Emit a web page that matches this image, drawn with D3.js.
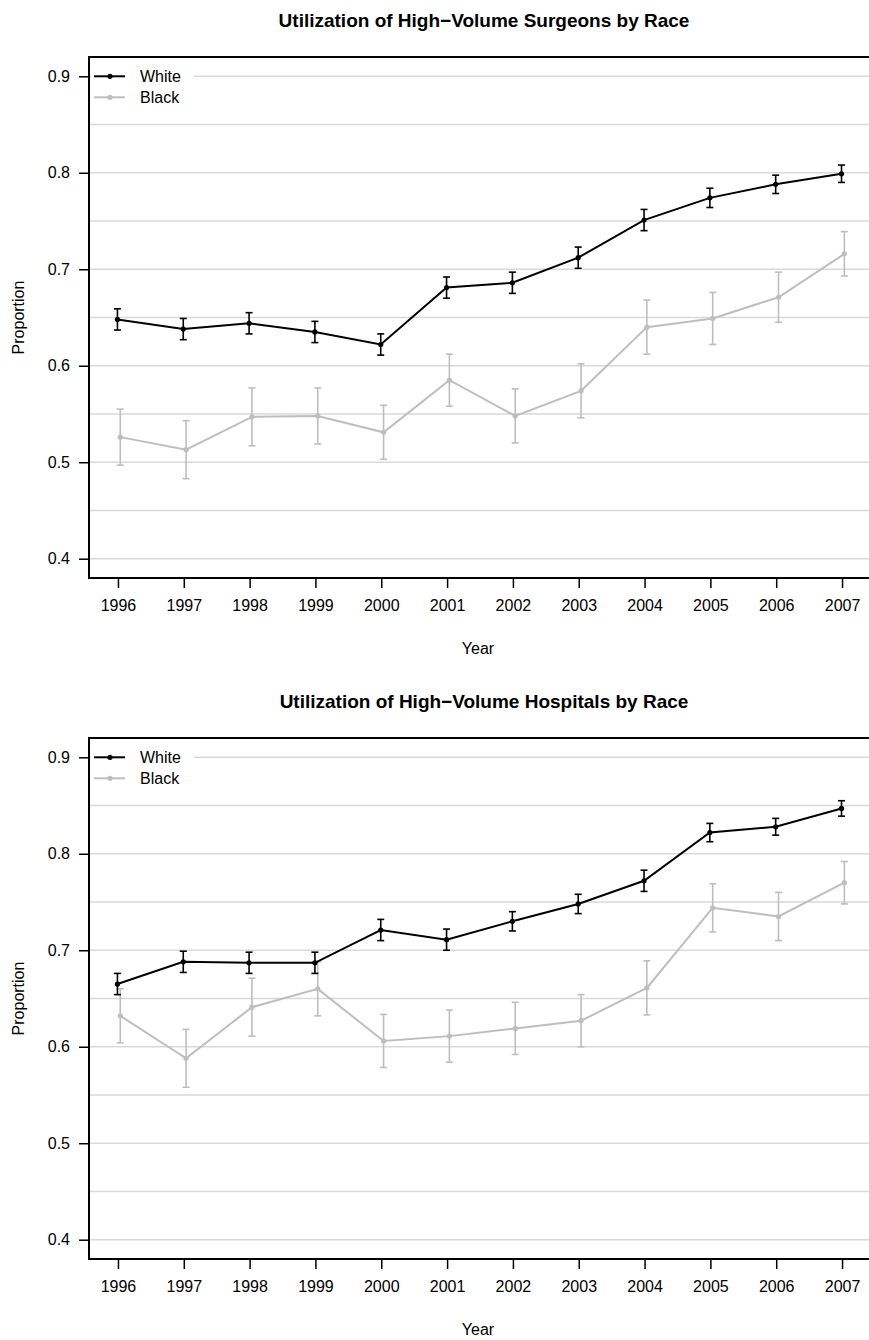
<!DOCTYPE html>
<html>
<head>
<meta charset="utf-8">
<script src="https://cdn.jsdelivr.net/npm/d3@7"></script>
<style>
  body { margin: 0; background: #fff; }
  svg { display: block; font-family: "Liberation Sans", Arial, sans-serif; }
</style>
</head>
<body>
<svg id="chart" width="869" height="1340"></svg>
<script>
// data
var years = [1996, 1997, 1998, 1999, 2000, 2001, 2002, 2003, 2004, 2005, 2006, 2007];
var yTicks = [0.4, 0.5, 0.6, 0.7, 0.8, 0.9];
var gridVals = [0.4, 0.45, 0.5, 0.55, 0.6, 0.65, 0.7, 0.75, 0.8, 0.85, 0.9];

var surgWhite    = [0.648, 0.638, 0.644, 0.635, 0.622, 0.681, 0.686, 0.712, 0.751, 0.774, 0.788, 0.799];
var surgWhiteErr = [0.011, 0.011, 0.011, 0.011, 0.011, 0.011, 0.011, 0.011, 0.011, 0.010, 0.0095, 0.009];
var surgBlack    = [0.526, 0.513, 0.547, 0.548, 0.531, 0.585, 0.548, 0.574, 0.640, 0.649, 0.671, 0.716];
var surgBlackErr = [0.029, 0.030, 0.030, 0.029, 0.028, 0.027, 0.028, 0.028, 0.028, 0.027, 0.026, 0.023];

var hospWhite    = [0.665, 0.688, 0.687, 0.687, 0.721, 0.711, 0.730, 0.748, 0.772, 0.822, 0.828, 0.847];
var hospWhiteErr = [0.011, 0.011, 0.011, 0.011, 0.011, 0.011, 0.010, 0.010, 0.011, 0.0095, 0.0087, 0.008];
var hospBlack    = [0.632, 0.588, 0.641, 0.660, 0.606, 0.611, 0.619, 0.627, 0.661, 0.744, 0.735, 0.770];
var hospBlackErr = [0.028, 0.030, 0.030, 0.028, 0.0275, 0.027, 0.027, 0.027, 0.028, 0.025, 0.025, 0.022];

var seriesNames = ["White", "Black"];
var seriesColors = ["#000000", "#bebebe"];

var svg = d3.select("#chart");

function panel(top, title, white, whiteErr, black, blackErr) {
  var left = 89, right = 871, boxTop = top + 57, boxBot = top + 578;
  var x = d3.scaleLinear().domain([1995.56, 2007.44]).range([left, right]);
  var y = d3.scaleLinear().domain([0.38, 0.92]).range([boxBot, boxTop]);
  var g = svg.append("g");

  // grid
  g.selectAll(".grid").data(gridVals).enter().append("line")
    .attr("x1", left).attr("x2", right)
    .attr("y1", d => y(d)).attr("y2", d => y(d))
    .attr("stroke", "#d9d9d9").attr("stroke-width", 1.5);

  var series = [
    {name: seriesNames[0], color: seriesColors[0], vals: white, err: whiteErr, dx: -0.008},
    {name: seriesNames[1], color: seriesColors[1], vals: black, err: blackErr, dx: 0.035}
  ];

  // legend background
  g.append("rect").attr("x", left + 2).attr("y", y(0.9) - 11)
    .attr("width", 103).attr("height", 42).attr("fill", "#fff");

  // draw gray first so black sits on top
  series.slice().reverse().forEach(function(s) {
    var pts = years.map((yr, i) => ({x: x(yr + s.dx), v: s.vals[i], e: s.err[i]}));
    var line = d3.line().x(d => d.x).y(d => y(d.v));
    g.append("path").datum(pts).attr("d", line)
      .attr("fill", "none").attr("stroke", s.color).attr("stroke-width", 2);
    var eb = g.selectAll(null).data(pts).enter().append("g")
      .attr("stroke", s.color).attr("stroke-width", 1.6);
    eb.append("line").attr("x1", d => d.x).attr("x2", d => d.x)
      .attr("y1", d => y(d.v - d.e)).attr("y2", d => y(d.v + d.e));
    eb.append("line").attr("x1", d => d.x - 3.5).attr("x2", d => d.x + 3.5)
      .attr("y1", d => y(d.v + d.e)).attr("y2", d => y(d.v + d.e));
    eb.append("line").attr("x1", d => d.x - 3.5).attr("x2", d => d.x + 3.5)
      .attr("y1", d => y(d.v - d.e)).attr("y2", d => y(d.v - d.e));
    g.selectAll(null).data(pts).enter().append("circle")
      .attr("cx", d => d.x).attr("cy", d => y(d.v)).attr("r", 2.6)
      .attr("fill", s.color);
  });

  // legend
  series.forEach(function(s, i) {
    var ly = y(0.9) + i * 21;
    g.append("line").attr("x1", left + 5).attr("x2", left + 36)
      .attr("y1", ly).attr("y2", ly).attr("stroke", s.color).attr("stroke-width", 2);
    g.append("circle").attr("cx", left + 21).attr("cy", ly).attr("r", 2.6).attr("fill", s.color);
    g.append("text").attr("x", left + 51).attr("y", ly + 6)
      .attr("font-size", 16).attr("fill", "#000").text(s.name);
  });

  // box (left, top, bottom; right edge runs off the image)
  g.append("path")
    .attr("d", "M" + right + "," + boxTop + "H" + left + "V" + boxBot + "H" + right)
    .attr("fill", "none").attr("stroke", "#000").attr("stroke-width", 2);

  // axes
  var ya = d3.axisLeft(y).tickValues(yTicks).tickSize(10).tickPadding(9).tickFormat(d3.format(".1f"));
  var yg = g.append("g").attr("transform", "translate(" + left + ",0)").call(ya);
  yg.select(".domain").remove();
  yg.selectAll("text").attr("font-size", 16).attr("font-family", "Liberation Sans, Arial, sans-serif");
  yg.selectAll("line").attr("stroke-width", 1.5);

  var xa = d3.axisBottom(x).tickValues(years).tickSize(10).tickPadding(12).tickFormat(d3.format("d"));
  var xg = g.append("g").attr("transform", "translate(0," + boxBot + ")").call(xa);
  xg.select(".domain").remove();
  xg.selectAll("text").attr("font-size", 16).attr("font-family", "Liberation Sans, Arial, sans-serif");
  xg.selectAll("line").attr("stroke-width", 1.5);

  // titles
  g.append("text").attr("x", 484).attr("y", top + 27).attr("text-anchor", "middle")
    .attr("font-size", 19).attr("font-weight", "bold").text(title);
  g.append("text").attr("x", 478).attr("y", top + 654).attr("text-anchor", "middle")
    .attr("font-size", 16).text("Year");
  g.append("text").attr("transform", "translate(24," + ((boxTop + boxBot) / 2) + ") rotate(-90)")
    .attr("text-anchor", "middle").attr("font-size", 16).text("Proportion");
}

panel(0, "Utilization of High\u2212Volume Surgeons by Race", surgWhite, surgWhiteErr, surgBlack, surgBlackErr);
panel(681, "Utilization of High\u2212Volume Hospitals by Race", hospWhite, hospWhiteErr, hospBlack, hospBlackErr);
</script>
</body>
</html>
